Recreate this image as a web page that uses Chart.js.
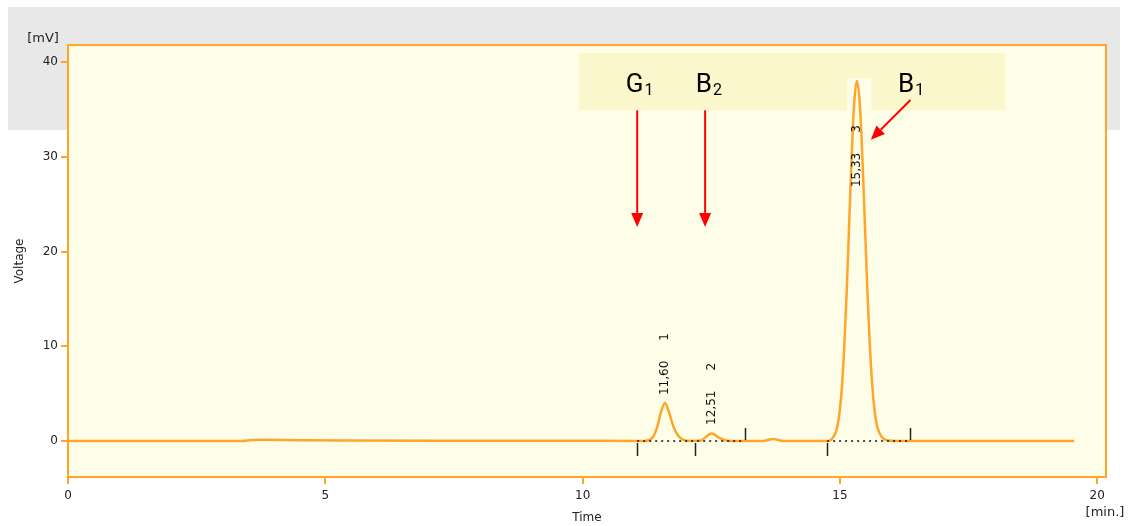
<!DOCTYPE html>
<html>
<head>
<meta charset="utf-8">
<script src="https://cdn.jsdelivr.net/npm/chart.js@4.4.0/dist/chart.umd.min.js"></script>
<style>
  body { margin: 0; background: #fff; }
  canvas { display: block; }
</style>
</head>
<body>
<canvas id="chromatogram" width="1131" height="526"></canvas>
<script>
// detector trace
const timeMin = [0, 3.4, 3.55, 3.8, 4.5, 5.5, 7.3, 9.2, 11.2, 11.35, 11.45, 11.52, 11.6, 11.68, 11.76, 11.85, 11.95, 12.1,
  12.3, 12.4, 12.51, 12.62, 12.75, 12.9, 13.5, 13.7, 13.9, 14.75, 14.83, 14.93, 14.98, 15.03, 15.08, 15.13, 15.18,
  15.23, 15.28, 15.33, 15.38, 15.43, 15.48, 15.53, 15.58, 15.63, 15.68, 15.73, 15.83, 15.95, 16.2, 17.5, 19.55]
const voltageMv = [0, 0, 0.1, 0.12, 0.08, 0.05, 0.03, 0.03, 0, 0.3, 1.5, 3.0, 4.0, 3.0, 1.6, 0.6, 0.15, 0,
  0.05, 0.45, 0.8, 0.45, 0.1, 0, 0, 0.2, 0, 0, 0.15, 1.1, 2.5, 5.1, 9.5, 15.6, 23.0,
  30.4, 35.9, 38.0, 36.0, 30.8, 23.6, 16.3, 10.2, 5.7, 2.9, 1.4, 0.3, 0.05, 0, 0, 0]

// peak annotations
const peakTimes = [11.60, 12.51, 15.33]
const peakRt = ['11,60', '12,51', '15,33']
const peakNo = ['1', '2', '3']
const peakLabelMv = [4.85, 1.7, 26.8]

// integration baseline
const markTimes = [11.06, 12.19, 13.16, 14.75, 16.37]
const markAbove = [false, false, true, false, true]
const baseline1 = [11.06, 13.16]
const baseline2 = [14.75, 16.37]

// compound labels + arrows
const compounds = ['G', 'B', 'B']
const compoundSub = ['1', '2', '1']
const compoundTimes = [10.84, 12.2, 16.13]

const xTicks = [0, 5, 10, 15, 20]
const yTicks = [0, 10, 20, 30, 40]

const orange = 'rgb(255,165,40)'
const textColor = '#222'
const tickFont = { family: 'DejaVu Sans', size: 12 }

const canvas = document.getElementById('chromatogram')

function arrow(ctx, x1, y1, x2, y2){
    const a = Math.atan2(y2 - y1, x2 - x1)
    const len = 14, half = 6
    const bx = x2 - len * Math.cos(a), by = y2 - len * Math.sin(a)
    ctx.beginPath()
    ctx.moveTo(x1, y1)
    ctx.lineTo(bx, by)
    ctx.stroke()
    ctx.beginPath()
    ctx.moveTo(x2, y2)
    ctx.lineTo(bx + half * Math.sin(a), by - half * Math.cos(a))
    ctx.lineTo(bx - half * Math.sin(a), by + half * Math.cos(a))
    ctx.closePath()
    ctx.fill()
}

const decorations = {
    id: 'decorations',
    beforeDraw(chart){
        const {ctx, chartArea: a, scales: {x, y}} = chart
        ctx.save()
        ctx.fillStyle = 'rgb(232,232,232)'
        ctx.fillRect(8, 7, 1112, 123)
        ctx.fillStyle = 'rgb(254,254,232)'
        ctx.fillRect(a.left, a.top, a.right - a.left, a.bottom - a.top)
        // highlighted label band, with the pasted peak patch
        ctx.fillStyle = 'rgb(250,247,204)'
        ctx.fillRect(x.getPixelForValue(9.93), y.getPixelForValue(40.95),
            x.getPixelForValue(18.21) - x.getPixelForValue(9.93), y.getPixelForValue(34.9) - y.getPixelForValue(40.95))
        ctx.fillStyle = 'rgb(254,254,234)'
        ctx.fillRect(x.getPixelForValue(15.14), y.getPixelForValue(38.3),
            x.getPixelForValue(15.61) - x.getPixelForValue(15.14), y.getPixelForValue(34.9) - y.getPixelForValue(38.3))
        ctx.restore()
    },
    afterDatasetsDraw(chart){
        const {ctx, chartArea: a, scales: {x, y}} = chart
        ctx.save()
        // frame
        ctx.strokeStyle = orange
        ctx.lineWidth = 2
        ctx.strokeRect(a.left, a.top, a.right - a.left, a.bottom - a.top)

        // baseline marks
        ctx.strokeStyle = '#222'
        ctx.lineWidth = 1.5
        const y0 = y.getPixelForValue(0)
        markTimes.forEach((t, i) => {
            const px = Math.round(x.getPixelForValue(t)) + 0.5
            ctx.beginPath()
            if (markAbove[i]) { ctx.moveTo(px, y0 - 13); ctx.lineTo(px, y0 - 1) }
            else { ctx.moveTo(px, y0 + 2); ctx.lineTo(px, y0 + 15) }
            ctx.stroke()
        })

        // peak labels, rotated
        ctx.fillStyle = '#111'
        ctx.font = '12px "DejaVu Sans"'
        ctx.textBaseline = 'middle'
        ctx.textAlign = 'left'
        peakTimes.forEach((t, i) => {
            const px = x.getPixelForValue(t)
            const py = y.getPixelForValue(peakLabelMv[i])
            ctx.save()
            ctx.translate(px, py)
            ctx.rotate(-Math.PI / 2)
            ctx.fillText(peakRt[i], 0, 0)
            ctx.fillText(peakNo[i], ctx.measureText(peakRt[i]).width + 20, 0)
            ctx.restore()
        })

        // compound labels
        compounds.forEach((c, i) => {
            const px = x.getPixelForValue(compoundTimes[i])
            const py = y.getPixelForValue(36.8)
            ctx.fillStyle = '#000'
            ctx.textBaseline = 'alphabetic'
            ctx.font = '26px Roboto'
            ctx.fillText(c, px, py)
            const w = ctx.measureText(c).width
            ctx.font = '16px Roboto'
            ctx.fillText(compoundSub[i], px + w + 1, py + 3)
        })

        // red arrows
        ctx.strokeStyle = '#f00'
        ctx.fillStyle = '#f00'
        ctx.lineWidth = 2
        arrow(ctx, x.getPixelForValue(11.06), y.getPixelForValue(34.9), x.getPixelForValue(11.06), y.getPixelForValue(22.6))
        arrow(ctx, x.getPixelForValue(12.38), y.getPixelForValue(34.9), x.getPixelForValue(12.38), y.getPixelForValue(22.6))
        arrow(ctx, x.getPixelForValue(16.37), y.getPixelForValue(36.0), x.getPixelForValue(15.6), y.getPixelForValue(31.8))

        // units
        ctx.fillStyle = textColor
        ctx.font = '13px "DejaVu Sans"'
        ctx.textAlign = 'center'
        ctx.textBaseline = 'middle'
        ctx.fillText('[mV]', 43, 39)
        ctx.fillText('[min.]', 1105, 513)
        ctx.restore()
    }
}

const config = {
    type: 'line',
    data: {
        datasets: [
            {
                data: baseline1.map(t => ({x: t, y: 0})),
                borderColor: '#111', borderWidth: 1.5, borderDash: [2, 4], pointRadius: 0
            },
            {
                data: baseline2.map(t => ({x: t, y: 0})),
                borderColor: '#111', borderWidth: 1.5, borderDash: [2, 4], pointRadius: 0
            },
            {
                data: timeMin.map((t, i) => ({x: t, y: voltageMv[i]})),
                borderColor: orange,
                borderWidth: 2.5,
                pointRadius: 0,
                cubicInterpolationMode: 'monotone'
            }
        ]
    },
    options: {
        responsive: false,
        animation: false,
        events: [],
        layout: {
            padding: {left: 0, top: 45, right: 25, bottom: 0}
        },
        plugins: {
            legend: {display: false},
            tooltip: {enabled: false}
        },
        scales: {
            x: {
                type: 'linear',
                min: 0,
                max: 20.17,
                afterFit: s => { s.height = 49 },
                afterBuildTicks: s => { s.ticks = xTicks.map(v => ({value: v})) },
                grid: {drawOnChartArea: false, drawTicks: true, tickLength: 7, color: orange, lineWidth: 2},
                border: {color: orange, width: 2},
                ticks: {color: textColor, font: tickFont, padding: 5, maxRotation: 0},
                title: {display: true, text: 'Time', color: textColor, font: tickFont, padding: {top: 0, bottom: 1}}
            },
            y: {
                min: -3.8,
                max: 41.8,
                afterFit: s => { s.width = 68 },
                afterBuildTicks: s => { s.ticks = yTicks.map(v => ({value: v})) },
                grid: {drawOnChartArea: false, drawTicks: true, tickLength: 7, color: orange, lineWidth: 2},
                border: {color: orange, width: 2},
                ticks: {color: textColor, font: tickFont, padding: 3},
                title: {display: true, text: 'Voltage', color: textColor, font: tickFont, padding: {top: 13, bottom: 0}}
            }
        }
    },
    plugins: [decorations]
}

new Chart(canvas, config)
</script>
</body>
</html>
